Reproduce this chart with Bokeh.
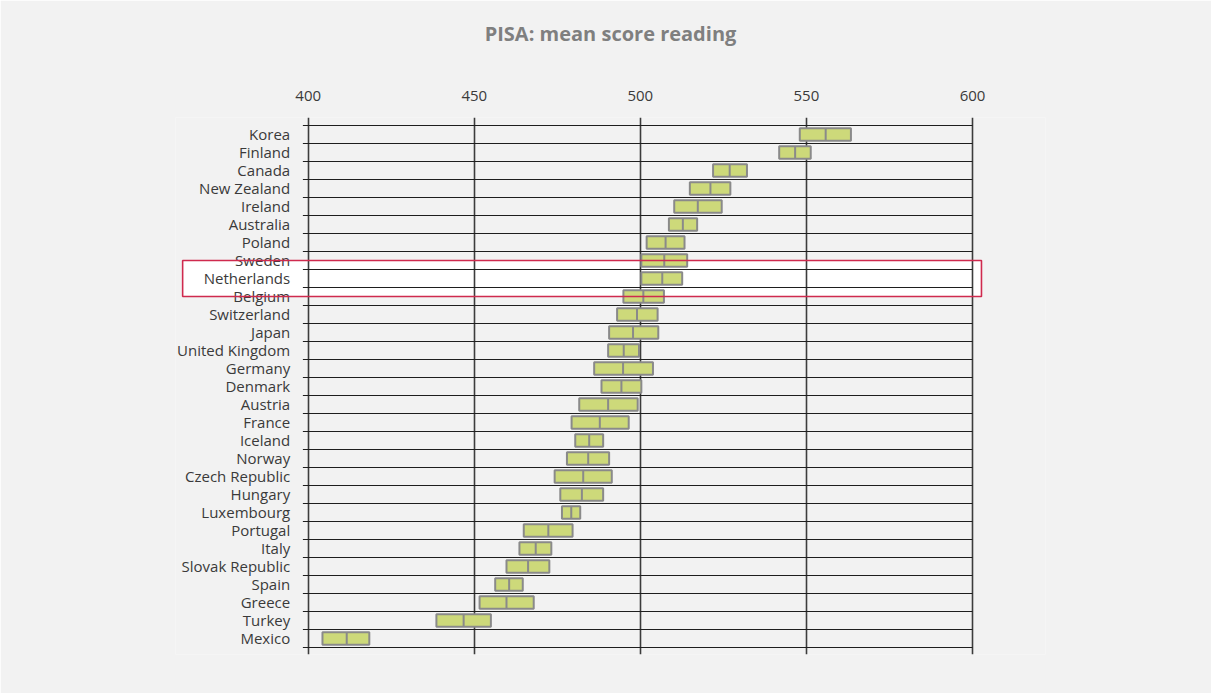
from bokeh.plotting import figure
from bokeh.models import Range1d, FixedTicker, ColumnDataSource, Title
from bokeh.core.properties import value
from bokeh.embed import file_html
from bokeh.resources import INLINE

title_text = "PISA: mean score reading"
countries = ["Korea", "Finland", "Canada", "New Zealand", "Ireland", "Australia",
             "Poland", "Sweden", "Netherlands", "Belgium", "Switzerland", "Japan",
             "United Kingdom", "Germany", "Denmark", "Austria", "France", "Iceland",
             "Norway", "Czech Republic", "Hungary", "Luxembourg", "Portugal", "Italy",
             "Slovak Republic", "Spain", "Greece", "Turkey", "Mexico"]
low = [548.0, 541.8, 521.9, 514.9, 510.2, 508.6, 501.9, 500.3, 500.3, 494.9,
       493.0, 490.6, 490.3, 486.1, 488.3, 481.6, 479.3, 480.4, 477.9, 474.2,
       475.9, 476.4, 464.9, 463.6, 459.7, 456.3, 451.6, 438.6, 404.3]
mean = [555.8, 546.6, 526.9, 521.1, 517.3, 512.8, 507.6, 507.2, 506.6, 500.9,
        499.0, 497.8, 495.0, 494.8, 494.3, 490.3, 487.8, 484.6, 484.3, 482.8,
        482.4, 479.2, 472.3, 468.5, 466.2, 460.5, 459.7, 446.8, 411.6]
high = [563.4, 551.3, 532.1, 527.1, 524.5, 517.1, 513.3, 514.1, 512.6, 507.1,
        505.2, 505.4, 499.6, 503.8, 500.3, 499.2, 496.5, 488.8, 490.6, 491.4,
        488.8, 481.9, 479.6, 473.2, 472.6, 464.6, 467.9, 455.0, 418.4]
x_ticks = [400, 450, 500, 550, 600]
highlight = "Netherlands"

n = len(countries)
idx = list(range(n))
BAR_H = 0.69
src = ColumnDataSource(dict(y=idx, country=countries, low=low, mean=mean, high=high,
                            y0=[i - BAR_H / 2 for i in idx], y1=[i + BAR_H / 2 for i in idx]))

FONT = "Open Sans"
p = figure(width=1211, height=693, output_backend="svg", toolbar_location=None,
           x_range=Range1d(360.05, 621.98), y_range=Range1d(28.889, -0.944),
           x_axis_location="above", y_axis_location=None,
           min_border_left=175, min_border_right=166, min_border_top=117,
           min_border_bottom=39, title=title_text)
p.background_fill_color = "#f2f2f2"
p.border_fill_color = "#f2f2f2"
p.outline_line_color = None

p.title.align = "center"
p.title.text_font = FONT
p.title.text_font_size = "20px"
p.title.text_font_style = "bold"
p.title.text_color = "#7f7f7f"
p.title.standoff = 10

ax = p.xaxis[0]
ax.ticker = FixedTicker(ticks=x_ticks)
ax.axis_line_color = None
ax.major_tick_line_color = None
ax.minor_tick_line_color = None
ax.major_label_text_font = FONT
ax.major_label_text_font_size = "15px"
ax.major_label_text_color = "#3a3a3a"
ax.major_label_standoff = 11

# empty spacer between the axis labels and the title
p.add_layout(Title(text=" ", text_font_size="12px", standoff=20), "above")

p.xgrid.ticker = FixedTicker(ticks=x_ticks)
p.xgrid.grid_line_color = "#3c3c3c"
p.xgrid.grid_line_width = 1.6
p.ygrid.visible = False

# highlight box (white fill under grid)
hi = countries.index(highlight)
box_left, box_right = 400 - 37.8, 600 + 2.7
p.quad(left=[box_left], right=[box_right], top=[hi - 1], bottom=[hi + 1],
       fill_color="white", line_color=None, level="underlay")

# horizontal row separators
seps = [i - 0.5 for i in idx] + [n - 0.5]
p.segment(x0=[x_ticks[0] - 1.6] * len(seps), x1=[x_ticks[-1]] * len(seps),
          y0=seps, y1=seps, line_color="#1e1e1e", line_width=1.2)

# bars (confidence interval) and mean markers
p.hbar(y="y", left="low", right="high", height=BAR_H, source=src,
       fill_color="#cdd97a", line_color="#8a8a8a", line_width=2)
p.segment(x0="mean", x1="mean", y0="y0", y1="y1", source=src,
          line_color="#8a8a8a", line_width=2)

# country labels
p.text(x=[x_ticks[0]] * n, y=idx, text=countries, x_offset=-18,
       text_align="right", text_baseline="middle", text_font=value(FONT),
       text_font_size="15px", text_color="#3a3a3a")

# highlight outline
p.quad(left=[box_left], right=[box_right], top=[hi - 1], bottom=[hi + 1],
       fill_color=None, line_color="#cf2a4e", line_width=1.6)

open("out.html", "w").write(file_html(p, INLINE))
